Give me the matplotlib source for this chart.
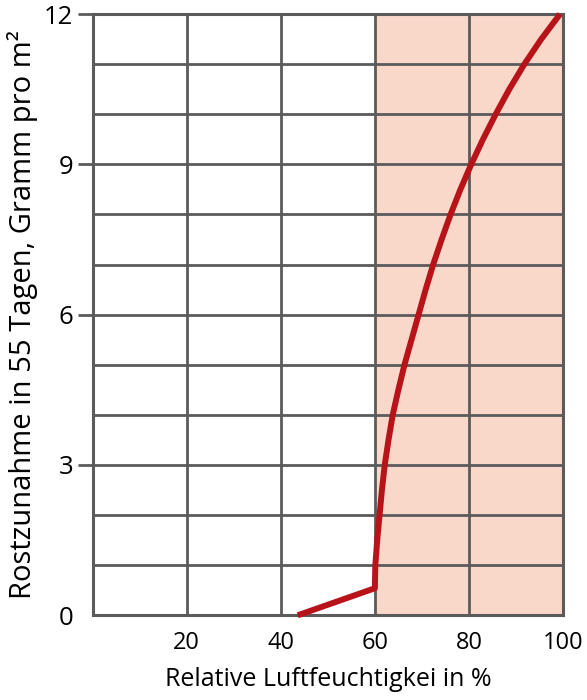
import matplotlib
matplotlib.use("Agg")
import matplotlib.pyplot as plt

# Data
humidity = [43.6, 60.0, 60.1, 60.5, 61.0, 61.5, 62.1, 62.9, 63.8, 65.0, 66.3, 67.8,
            69.3, 70.8, 72.4, 74.2, 76.1, 78.2, 80.5, 83.0, 85.7, 88.6, 91.8, 95.4, 99.4]
rust = [0, 0.54, 1, 1.5, 2, 2.5, 3, 3.5, 4, 4.5, 5, 5.5,
        6, 6.5, 7, 7.5, 8, 8.5, 9, 9.5, 10, 10.5, 11, 11.5, 12]
x_ticks = [20, 40, 60, 80, 100]
x_tick_labels = ["20", "40", "60", "80", "100"]
y_ticks = [0, 3, 6, 9, 12]
y_tick_labels = ["0", "3", "6", "9", "12"]
shade_range = (60, 100)

plt.rcParams['font.family'] = ['Open Sans', 'DejaVu Sans']

fig = plt.figure(figsize=(5.87, 7.0), dpi=100)
ax = fig.add_axes([0.158, 0.121, 0.801, 0.859])

grid_c = "#5b5b5b"
ax.axvspan(*shade_range, color="#f9d8ca", zorder=0, lw=0)

ax.set_xlim(0, 100)
ax.set_ylim(0, 12)
ax.set_xticks(x_ticks)
ax.set_xticklabels(x_tick_labels)
ax.set_yticks(y_ticks)
ax.set_yticklabels(y_tick_labels)

for x in x_ticks[:-1]:
    ax.axvline(x, color=grid_c, lw=2.0, zorder=1)
for y in range(1, 12):
    ax.axhline(y, color=grid_c, lw=2.0, zorder=1)

for s in ax.spines.values():
    s.set_color(grid_c)
    s.set_linewidth(2.2)
    s.set_zorder(3)

ax.tick_params(axis='x', length=0, labelsize=17, pad=11)
ax.tick_params(axis='y', which='major', length=11, width=2.0, color=grid_c, labelsize=18.5, pad=3)
ax.yaxis.get_major_ticks()[0].tick1line.set_visible(False)

ax.plot(humidity, rust, color="#b71318", lw=4.3, solid_capstyle='butt',
        solid_joinstyle='round', zorder=4, clip_on=False)

ax.set_xlabel("Relative Luftfeuchtigkei in %", fontsize=18, labelpad=9)
ax.set_ylabel("Rostzunahme in 55 Tagen, Gramm pro m²", fontsize=21, labelpad=4)

fig.savefig("out.png", dpi=100)
